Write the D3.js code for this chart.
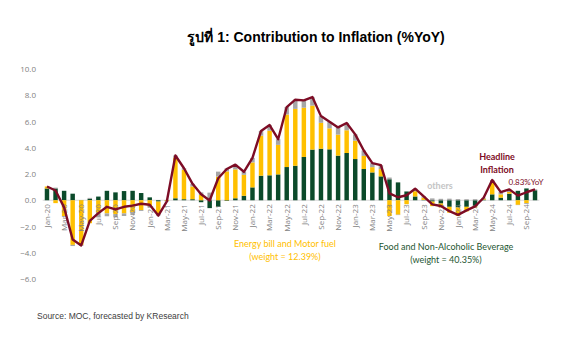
<!DOCTYPE html>
<html>
<head>
<meta charset="utf-8">
<script src="https://cdn.jsdelivr.net/npm/d3@7"></script>
<style>
  body { margin: 0; background: #fff; }
  svg { display: block; }
</style>
</head>
<body>
<svg id="chart"></svg>
<script>
var width = 575;
var height = 347;

// monthly contributions to headline CPI, Jan-20 .. Oct-24 (%YoY)
var headline = [1.05, 0.74, -0.54, -2.99, -3.44, -1.57, -0.98, -0.50, -0.70, -0.50, -0.41, -0.27,
    -0.34, -1.17, -0.08, 3.41, 2.44, 1.25, 0.45, -0.02, 1.68, 2.38, 2.71, 2.17,
    3.23, 5.28, 5.73, 4.65, 7.10, 7.66, 7.61, 7.86, 6.41, 5.98, 5.55, 5.89,
    5.02, 3.79, 2.83, 2.67, 0.53, 0.23, 0.38, 0.88, 0.30, -0.31, -0.44, -0.83,
    -1.11, -0.77, -0.47, 0.19, 1.54, 0.62, 0.83, 0.35, 0.61, 0.83];

var food = [0.90, 0.90, 0.72, 0.50, 0.02, 0.10, 0.28, 0.72, 0.60, 0.70, 0.72, 0.55,
    0.22, -0.10, 0.02, 0.15, 0.08, 0.08, -0.15, -0.60, -0.50, -0.05, 0.15, 0.34,
    0.98, 1.87, 1.90, 1.97, 2.53, 2.63, 3.30, 3.86, 3.93, 3.88, 3.40, 3.60,
    3.14, 2.38, 2.12, 1.82, 1.60, 1.36, 0.67, 0.29, 0.03, -0.10, -0.25, -0.50,
    -0.55, -0.50, -0.45, 0.05, 0.45, 0.20, 0.50, 0.72, 0.90, 0.76];

var energy = [0.15, -0.22, -1.20, -3.40, -3.40, -1.75, -0.95, -1.00, -1.05, -1.00, -0.90, -0.75,
    -0.45, -0.95, -0.05, 3.10, 2.25, 0.97, 0.40, 0.00, 1.80, 2.20, 2.20, 1.60,
    1.90, 3.05, 3.40, 2.25, 4.00, 4.33, 3.75, 3.35, 1.97, 1.60, 1.60, 1.73,
    1.40, 1.00, 0.40, 0.55, -1.20, -1.10, -0.30, 0.40, 0.17, -0.35, -0.30, -0.45,
    -0.65, -0.35, -0.10, 0.08, 0.90, 0.25, 0.13, -0.35, -0.22, 0.00];

var others = [0.00, 0.06, -0.06, -0.09, -0.06, 0.08, -0.31, -0.22, -0.25, -0.20, -0.23, -0.07,
    -0.11, -0.12, -0.05, 0.16, 0.11, 0.20, 0.20, 0.58, 0.38, 0.23, 0.36, 0.23,
    0.35, 0.36, 0.43, 0.43, 0.57, 0.70, 0.56, 0.65, 0.51, 0.50, 0.55, 0.56,
    0.48, 0.41, 0.31, 0.30, 0.13, -0.03, 0.01, 0.19, 0.10, 0.14, 0.11, 0.12,
    0.09, 0.08, 0.08, 0.06, 0.19, 0.17, 0.20, -0.02, -0.07, 0.07];

var yTicks = [-6, -4, -2, 0, 2, 4, 6, 8, 10];

var months = d3.timeMonth.range(new Date(2020, 0, 1), new Date(2024, 10, 1))
    .map(d3.timeFormat("%b-%y"));

var keys = ["food", "energy", "others"];
var colors = { food: "#0b4a2a", energy: "#ffc000", others: "#a6a6a6" };
var lineColor = "#7d0c25";

var table = months.map(function (m, i) {
    return { month: m, food: food[i], energy: energy[i], others: others[i], headline: headline[i] };
});

var svg = d3.select("#chart")
    .attr("width", width)
    .attr("height", height);

// scales
var x = d3.scaleBand()
    .domain(months)
    .range([42.7, 539.3])
    .paddingInner(0.48)
    .paddingOuter(0.24);

var y = d3.scaleLinear()
    .domain([-6, 10])
    .range([279, 69]);

var xc = function (m) { return x(m) + x.bandwidth() / 2; };

// title
svg.append("text")
    .attr("x", 316)
    .attr("y", 42)
    .attr("text-anchor", "middle")
    .style("font-family", "'Liberation Sans', Arial, sans-serif")
    .style("font-weight", "bold")
    .style("font-size", "14px")
    .style("fill", "#000")
    .text("รูปที่ 1: Contribution to Inflation (%YoY)");

// y axis labels, no line
var yAxis = svg.append("g")
    .attr("transform", "translate(36,0)")
    .call(d3.axisLeft(y).tickValues(yTicks).tickFormat(d3.format(".1f")).tickSize(0).tickPadding(0));
yAxis.select(".domain").remove();
yAxis.selectAll("text")
    .style("font-family", "'Open Sans', sans-serif")
    .style("font-size", "8px")
    .style("fill", "#7f7f7f");

// zero line
svg.append("line")
    .attr("x1", x.range()[0])
    .attr("x2", x.range()[1])
    .attr("y1", y(0))
    .attr("y2", y(0))
    .style("stroke", "#d9d9d9")
    .style("stroke-width", 1);

// stacked bars, positives up and negatives down
var series = d3.stack()
    .keys(keys)
    .offset(d3.stackOffsetDiverging)(table);

var layers = svg.append("g").selectAll("g")
    .data(series)
    .enter().append("g")
    .attr("fill", function (d) { return colors[d.key]; });

layers.selectAll("rect")
    .data(function (d) { return d; })
    .enter().append("rect")
    .attr("x", function (d) { return x(d.data.month); })
    .attr("width", x.bandwidth())
    .attr("y", function (d) { return y(Math.max(d[0], d[1])); })
    .attr("height", function (d) { return Math.abs(y(d[0]) - y(d[1])); });

// month labels every other month, sitting on the zero line
var xAxis = svg.append("g")
    .attr("transform", "translate(0," + y(0) + ")")
    .call(d3.axisBottom(x)
        .tickValues(months.filter(function (m, i) { return i % 2 === 0; }))
        .tickSize(0));
xAxis.select(".domain").remove();
xAxis.selectAll("text")
    .attr("transform", "rotate(-90)")
    .attr("text-anchor", "end")
    .attr("x", -4)
    .attr("y", 0)
    .attr("dy", "0.35em")
    .style("font-family", "'Open Sans', sans-serif")
    .style("font-size", "8px")
    .style("fill", "#7f7f7f");

// headline inflation line
var line = d3.line()
    .x(function (d) { return xc(d.month); })
    .y(function (d) { return y(d.headline); });

svg.append("path")
    .datum(table)
    .attr("d", line)
    .style("fill", "none")
    .style("stroke", lineColor)
    .style("stroke-width", 2.4)
    .style("stroke-linejoin", "round");

// annotations
var note = function (tx, ty, txt, color, weight, size) {
    svg.append("text")
        .attr("x", tx)
        .attr("y", ty)
        .attr("text-anchor", "middle")
        .style("font-family", "Lato, 'Open Sans', sans-serif")
        .style("font-weight", weight)
        .style("font-size", size)
        .style("fill", color)
        .text(txt);
};

note(497, 160, "Headline", lineColor, "bold", "9px");
note(497, 173, "Inflation", lineColor, "bold", "9px");
note(526, 185, "0.83%YoY", lineColor, "normal", "8px");
note(440, 189, "others", "#c4c4c4", "bold", "9px");
note(285, 247, "Energy bill and Motor fuel", "#ffc000", "normal", "9px");
note(285, 260, "(weight = 12.39%)", "#ffc000", "normal", "9px");
note(446, 250, "Food and Non-Alcoholic Beverage", "#1e5631", "normal", "9px");
note(446, 263, "(weight = 40.35%)", "#1e5631", "normal", "9px");

// source
svg.append("text")
    .attr("x", 37)
    .attr("y", 319)
    .style("font-family", "'Liberation Sans', Arial, sans-serif")
    .style("font-size", "8.5px")
    .style("fill", "#404040")
    .text("Source: MOC, forecasted by KResearch");
</script>
</body>
</html>
